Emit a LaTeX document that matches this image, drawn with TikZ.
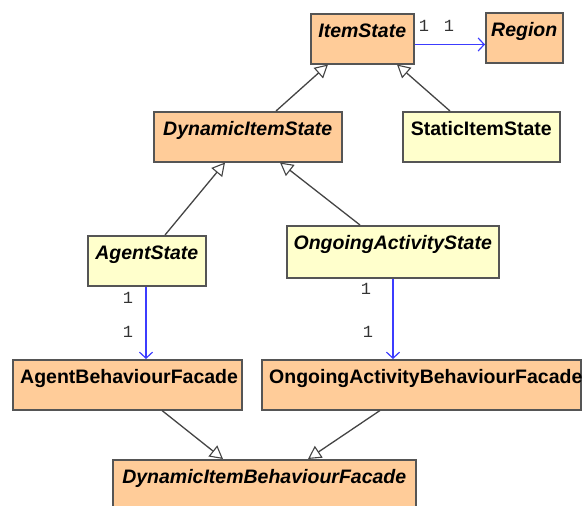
\documentclass[tikz,border=0pt]{standalone}
\usepackage{fontspec}
\setmainfont{Liberation Sans}
\newfontfamily\multfont{Liberation Mono}
\usetikzlibrary{arrows.meta,calc}
\definecolor{orangefill}{RGB}{255,204,153}
\definecolor{yellowfill}{RGB}{255,255,204}
\definecolor{boxborder}{RGB}{85,85,85}
\definecolor{inhline}{RGB}{68,68,68}
\definecolor{assocblue}{RGB}{60,60,255}
\definecolor{multgray}{RGB}{51,51,51}
\begin{document}
\begin{tikzpicture}[x=1pt,y=-1pt,
  box/.style={draw=boxborder, line width=1.5pt, rectangle, anchor=north west, inner sep=0pt},
  orangebox/.style={box, fill=orangefill},
  yellowbox/.style={box, fill=yellowfill},
  title/.style={anchor=base, inner sep=0pt, font=\fontsize{19.5}{22}\selectfont\bfseries},
  abstract/.style={title, font=\fontsize{19.5}{22}\selectfont\bfseries\itshape},
  inh/.style={draw=inhline, line width=1.3pt, -{Triangle[open, length=13pt, width=14pt, fill=white, line width=1.1pt]}},
  assoc/.style={draw=assocblue, line width=1.2pt, -{Straight Barb[length=6pt, width=13pt, line width=1.2pt]}},
  mult/.style={inner sep=0pt, text=multgray, font=\multfont\fontsize{17}{18}\selectfont}
]
\useasboundingbox (0,0) rectangle (587,506);

% boxes
\node[orangebox, minimum width=103pt, minimum height=50pt] (item) at (310,13) {};
\node[orangebox, minimum width=77pt, minimum height=50pt] (region) at (485,12) {};
\node[orangebox, minimum width=188pt, minimum height=50pt] (dyn) at (153,111) {};
\node[yellowbox, minimum width=157pt, minimum height=50pt] (static) at (402,111) {};
\node[yellowbox, minimum width=118pt, minimum height=50pt] (agent) at (87,235) {};
\node[yellowbox, minimum width=212pt, minimum height=52pt] (oas) at (286,225) {};
\node[orangebox, minimum width=229pt, minimum height=50pt] (abf) at (12,359) {};
\node[orangebox, minimum width=319pt, minimum height=50pt] (oabf) at (261,359) {};
\node[orangebox, minimum width=303pt, minimum height=56pt] (dibf) at (112,459) {};

% titles
\node[abstract] (itemT) at ($(item.north)+(0,24)$) {ItemState};
\node[abstract] (regionT) at ($(region.north)+(0,24)$) {Region};
\node[abstract] (dynT) at ($(dyn.north)+(0,24)$) {DynamicItemState};
\node[title] (staticT) at ($(static.north)+(0,24)$) {StaticItemState};
\node[abstract] (agentT) at ($(agent.north)+(0,24)$) {AgentState};
\node[abstract] (oasT) at ($(oas.north)+(0,24)$) {OngoingActivityState};
\node[title, anchor=base west] (abfT) at ($(abf.north west)+(8,24)$) {AgentBehaviourFacade};
\node[title, anchor=base west] (oabfT) at ($(oabf.north west)+(8,24)$) {OngoingActivityBehaviourFacade};
\node[abstract] (dibfT) at ($(dibf.north)+(0,24)$) {DynamicItemBehaviourFacade};

% inheritance
\draw[inh] ($(dyn.north west)+(123,0)$) -- ($(item.south west)+(18,0)$);
\draw[inh] ($(static.north west)+(48,0)$) -- ($(item.south west)+(87,0)$);
\draw[inh] ($(agent.north west)+(78,0)$) -- ($(dyn.south west)+(72,0)$);
\draw[inh] ($(oas.north west)+(74,0)$) -- ($(dyn.south west)+(127,0)$);
\draw[inh] ($(abf.south west)+(150,0)$) -- ($(dibf.north west)+(111,0)$);
\draw[inh] ($(oabf.south west)+(119,0)$) -- ($(dibf.north west)+(196,0)$);

% associations
\draw[assoc] ($(item.south east)+(0,-20)$) -- ($(region.south west)+(0,-19)$);
\draw[assoc] ($(agent.south west)+(59,0)$) -- ($(abf.north west)+(134,0)$);
\draw[assoc] ($(oas.south west)+(107,0)$) -- ($(oabf.north west)+(132,0)$);

% multiplicities
\node[mult] (m1) at (424,26) {1};
\node[mult] (m2) at (449,26) {1};
\node[mult] (m3) at (128,298) {1};
\node[mult] (m4) at (128,332) {1};
\node[mult] (m5) at (366,289) {1};
\node[mult] (m6) at (368,332) {1};
\end{tikzpicture}
\end{document}
